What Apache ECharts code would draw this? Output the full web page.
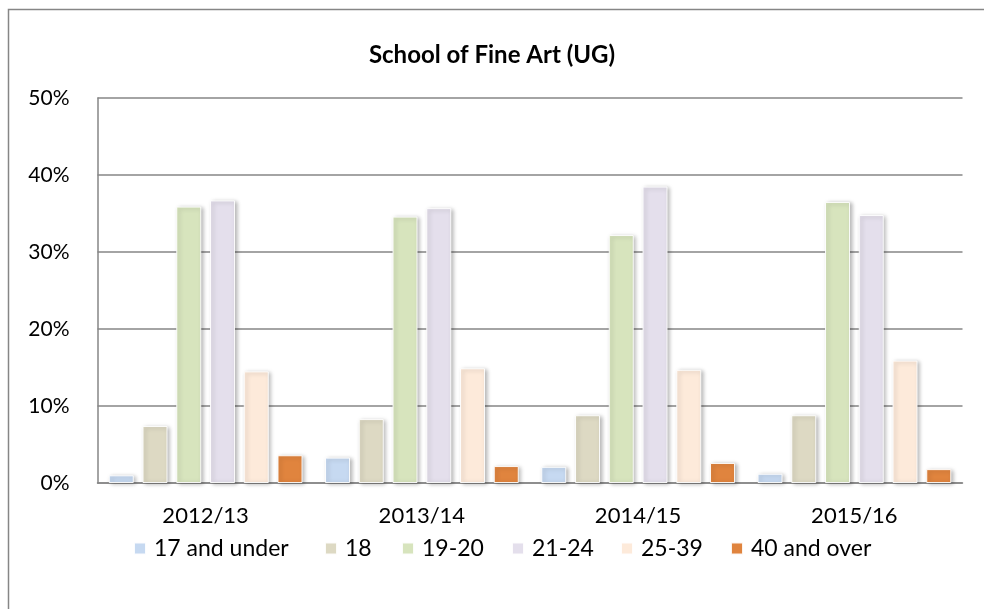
<!DOCTYPE html>
<html>
<head>
<meta charset="utf-8">
<title>School of Fine Art (UG)</title>
<script src="https://cdn.jsdelivr.net/npm/echarts@6/dist/echarts.min.js"></script>
<style>
  html, body { margin: 0; padding: 0; background: #fff; }
  #chart { width: 984px; height: 609px; }
</style>
</head>
<body>
<div id="chart"></div>
<script>
// Academic years on the category axis
const years = ['2012/13', '2013/14', '2014/15', '2015/16'];

// Share of undergraduate entrants by age band (%)
const under17 = [1.0, 3.3, 2.1, 1.2];
const age18 = [7.4, 8.3, 8.8, 8.8];
const age19to20 = [35.9, 34.6, 32.2, 36.5];
const age21to24 = [36.7, 35.7, 38.5, 34.8];
const age25to39 = [14.5, 14.9, 14.7, 15.9];
const over40 = [3.6, 2.2, 2.6, 1.8];

const seriesNames = ['17 and under', '18', '19-20', '21-24', '25-39', '40 and over'];
const seriesValues = [under17, age18, age19to20, age21to24, age25to39, over40];
const seriesColors = ['#c6d9f1', '#ddd9c3', '#d7e4bd', '#e4dfec', '#fdeada', '#e0843e'];

// Value axis ticks
const yMin = 0;
const yMax = 50;
const yStep = 10;

// Left edge of each legend entry (legend laid out in fixed columns)
const legendLeft = [133, 324, 401, 511, 620, 730];

const FONT = 'Lato';
const chart = echarts.init(document.getElementById('chart'));

chart.setOption({
  animation: false,
  textStyle: { fontFamily: FONT, color: '#000' },
  graphic: [{
    type: 'rect',
    shape: { x: 8.5, y: 9.5, width: 1000, height: 700 },
    style: { fill: 'none', stroke: '#868686', lineWidth: 1.5 },
    silent: true
  }],
  title: {
    text: 'School of Fine Art (UG)',
    left: 'center',
    top: 38,
    textStyle: { fontFamily: FONT, fontSize: 24, fontWeight: 'bold', color: '#000' }
  },
  legend: seriesNames.map((name, i) => ({
    data: [name],
    left: legendLeft[i],
    top: 537,
    padding: 0,
    itemWidth: 12,
    itemHeight: 12,
    icon: 'rect',
    selectedMode: false,
    textStyle: { fontFamily: FONT, fontSize: 23, color: '#000', padding: [0, 0, 0, 3] }
  })),
  grid: { left: 97.5, right: 21.5, top: 98, bottom: 126, containLabel: false },
  xAxis: {
    type: 'category',
    data: years,
    axisLine: { lineStyle: { color: '#868686', width: 1.5 } },
    axisTick: { show: false },
    axisLabel: { fontFamily: FONT, fontSize: 22, color: '#000', margin: 22 }
  },
  yAxis: {
    type: 'value',
    min: yMin,
    max: yMax,
    interval: yStep,
    axisLine: { show: true, lineStyle: { color: '#868686', width: 1.5 } },
    axisTick: { show: false },
    splitLine: { lineStyle: { color: '#868686', width: 1.5 } },
    axisLabel: { fontFamily: FONT, fontSize: 21, color: '#000', margin: 28, formatter: '{value}%' }
  },
  series: seriesNames.map((name, i) => ({
    name: name,
    type: 'bar',
    data: seriesValues[i],
    barWidth: 25,
    barGap: '35%',
    itemStyle: {
      color: seriesColors[i],
      borderColor: 'rgba(255,255,255,0.9)',
      borderWidth: 1,
      shadowColor: 'rgba(0,0,0,0.28)',
      shadowBlur: 4,
      shadowOffsetX: 2,
      shadowOffsetY: 1
    }
  }))
});
</script>
</body>
</html>
